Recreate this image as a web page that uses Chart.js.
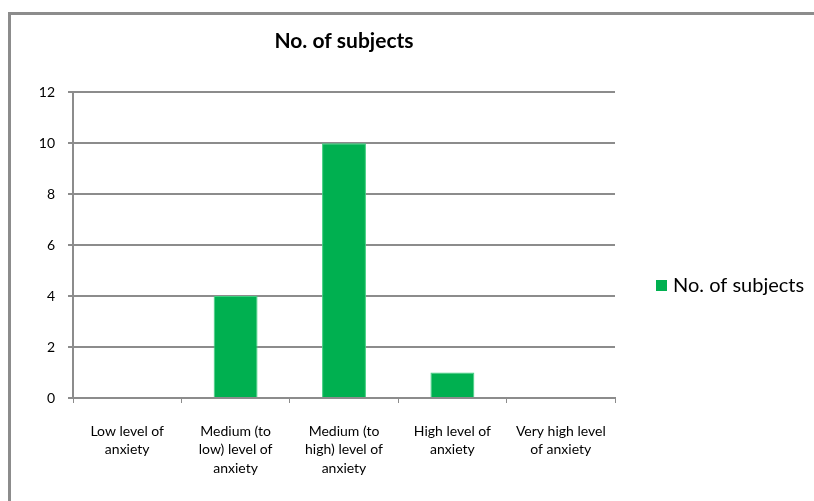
<!DOCTYPE html>
<html>
<head>
<meta charset="utf-8">
<script src="https://cdn.jsdelivr.net/npm/chart.js@4.4.1/dist/chart.umd.min.js"></script>
<style>
  html, body { margin: 0; padding: 0; background: #fff; }
  canvas { display: block; }
</style>
</head>
<body>
<canvas id="myChart" width="814" height="501"></canvas>
<script>
const categories = [
  ["Low level of", "anxiety"],
  ["Medium (to", "low) level of", "anxiety"],
  ["Medium (to", "high) level of", "anxiety"],
  ["High level of", "anxiety"],
  ["Very high level", "of anxiety"],
];
const subjects = [0, 4, 10, 1, 0];
const seriesName = "No. of subjects";
const barColor = "#00b050";
const gridColor = "#8c8c8c";

// outer frame + legend drawn by hand, Excel style
const frame = {
  id: "frame",
  beforeDraw(chart) {
    const ctx = chart.ctx;
    ctx.save();
    ctx.strokeStyle = gridColor;
    ctx.lineWidth = 3;
    ctx.beginPath();
    ctx.moveTo(9.5, 501);
    ctx.lineTo(9.5, 13.5);
    ctx.lineTo(814, 13.5);
    ctx.stroke();
    ctx.restore();
  },
  afterDraw(chart) {
    const ctx = chart.ctx;
    const x = chart.chartArea.right + 41;
    ctx.save();
    ctx.fillStyle = barColor;
    ctx.fillRect(x, 280, 11, 11);
    ctx.fillStyle = "#000";
    ctx.font = "20px Lato";
    ctx.textBaseline = "middle";
    ctx.fillText(seriesName, x + 17, 286);
    ctx.restore();
  },
};

new Chart("myChart", {
  type: "bar",
  data: {
    labels: categories,
    datasets: [
      {
        label: seriesName,
        data: subjects,
        backgroundColor: barColor,
        borderColor: "#3fcf7f",
        borderWidth: 1,
        categoryPercentage: 0.81,
        barPercentage: 0.5,
      },
    ],
  },
  options: {
    responsive: false,
    animation: false,
    devicePixelRatio: 1,
    layout: { padding: { left: 0, right: 199, top: 0, bottom: 0 } },
    plugins: {
      legend: { display: false },
      tooltip: { enabled: false },
      title: {
        display: true,
        text: seriesName,
        fullSize: false,
        color: "#000",
        font: { family: "Lato", size: 21, weight: "bold" },
        padding: { top: 29, bottom: 38 },
      },
    },
    scales: {
      x: {
        grid: { display: true, drawOnChartArea: false, color: gridColor, tickLength: 5, lineWidth: 1 },
        border: { color: gridColor, width: 2 },
        ticks: {
          color: "#000",
          font: { family: "Lato", size: 14, lineHeight: 1.32 },
          padding: 19,
          maxRotation: 0,
          autoSkip: false,
        },
        afterFit(scale) { scale.height = 103; },
      },
      y: {
        min: 0,
        max: 12,
        grid: { color: gridColor, lineWidth: 2, tickLength: 5 },
        border: { color: gridColor, width: 2 },
        ticks: {
          stepSize: 2,
          color: "#000",
          font: { family: "Lato", size: 14 },
          padding: 13,
        },
        afterFit(scale) { scale.width = 73; },
      },
    },
  },
  plugins: [frame],
});
</script>
</body>
</html>
